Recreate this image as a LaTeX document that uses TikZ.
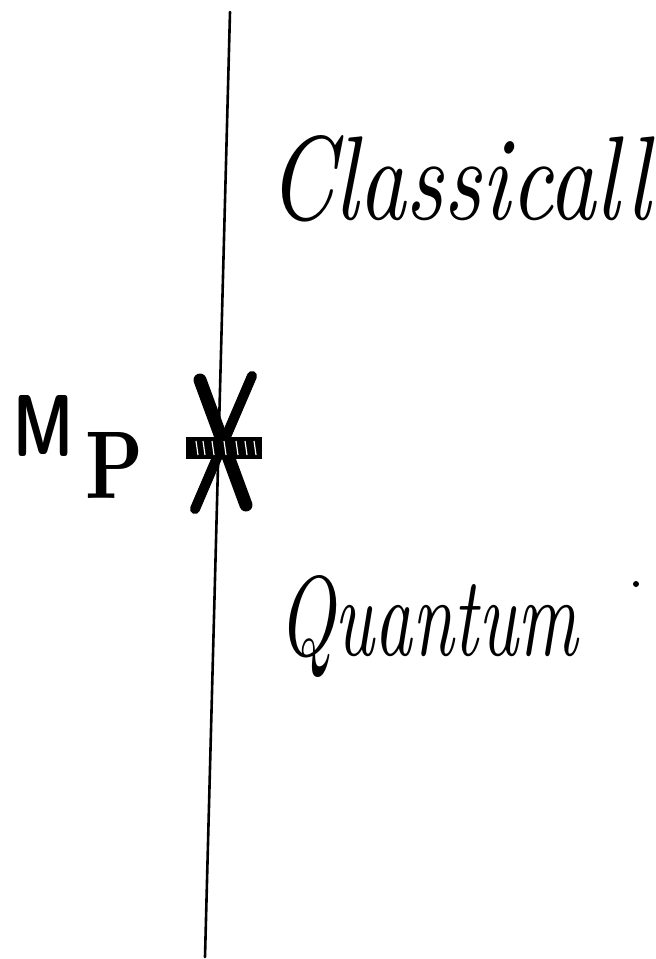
\documentclass[tikz,border=0pt]{standalone}
\usepackage{graphicx}
\tikzset{
  axisline/.style={line width=2.6pt, line cap=round},
  crossstroke/.style={line cap=round},
  lbl/.style={inner sep=0pt, outer sep=0pt}
}
\begin{document}
\begin{tikzpicture}[x=1pt,y=-1pt]
\useasboundingbox[fill=white] (0,0) rectangle (656,959);
% vertical line
\coordinate (top) at (230,12);
\coordinate (bot) at (205,957);
\draw[axisline] (top) -- (bot);
% cross
\coordinate (xa1) at (200,380);
\coordinate (xa2) at (246,505);
\coordinate (xb1) at (252,376);
\coordinate (xb2) at (195,509);
\draw[crossstroke, line width=13pt] (xa1) -- (xa2);
\draw[crossstroke, line width=10pt] (xb1) -- (xb2);
% hatched band
\fill[black] (186,437) rectangle (262,459);
\foreach \xx in {196,203,212,224,236,245,254}{
  \draw[white, line width=1.2pt] (\xx,441) -- (\xx+2,455);
}
% labels
\node[lbl, anchor=south west] (M) at (14,456) {\resizebox{60pt}{61pt}{\sffamily\bfseries M}};
\node[lbl, anchor=south west] (P) at (85,498) {\resizebox{58pt}{66pt}{\bfseries P}};
\node[lbl, anchor=base west] (classical) at (268,219) {\resizebox{382pt}{84pt}{\itshape Classicall}};
\node[lbl, anchor=base west] (quantum) at (278,655) {\resizebox{300pt}{80pt}{\itshape Quantum}};
\fill (636,584) circle (3pt);
\end{tikzpicture}
\end{document}
